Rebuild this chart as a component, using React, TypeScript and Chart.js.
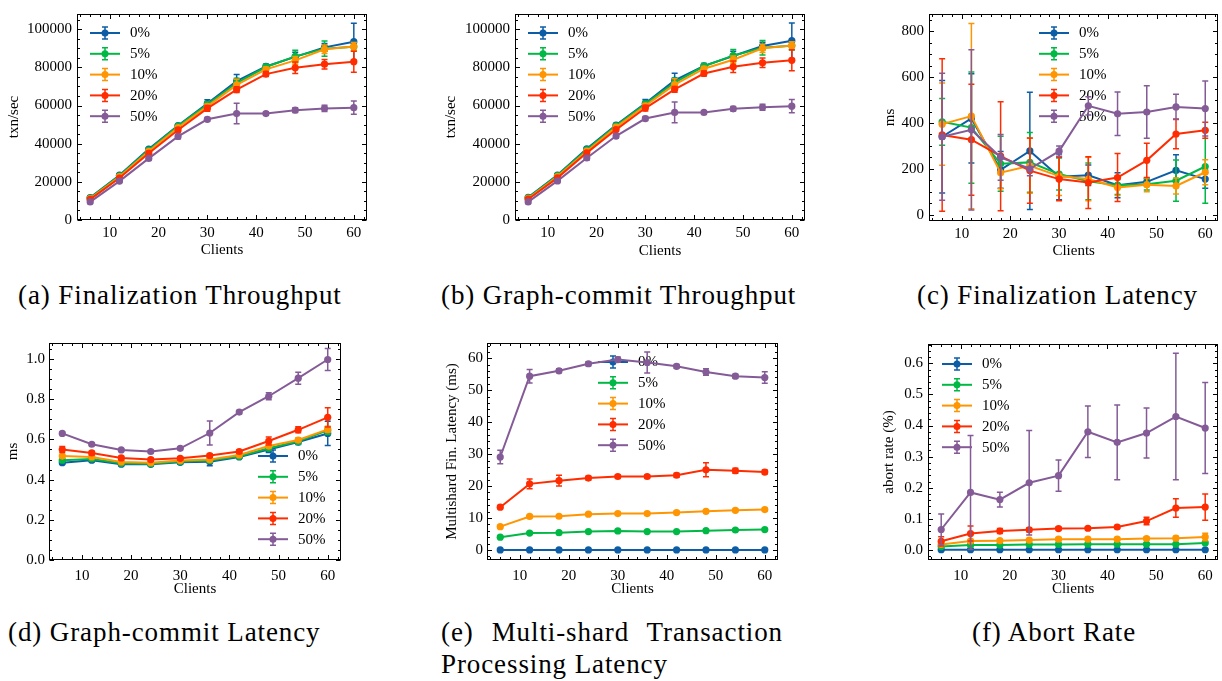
import React, { useEffect, useRef } from 'react';
import { Chart, registerables } from 'chart.js';

Chart.register(...registerables);

const FONT = '"Liberation Serif", Tinos, "DejaVu Serif Condensed", "DejaVu Serif", serif';
Chart.defaults.font.family = FONT;
Chart.defaults.font.size = 15;
Chart.defaults.color = '#000';

// ---------- shared ----------
const clients = [6, 12, 18, 24, 30, 36, 42, 48, 54, 60];
const loadLabels = ['0%', '5%', '10%', '20%', '50%'];
const loadColors = ['#0C5DA5', '#00B945', '#FF9500', '#FF2C00', '#845B97'];
const clientTicks = [10, 20, 30, 40, 50, 60];

// ---------- (a) Finalization Throughput (txn/sec) ----------
const finTputMean = [
  [11800, 23500, 37200, 49500, 61000, 72800, 80500, 85500, 90500, 93500],
  [11500, 23200, 36700, 49200, 60500, 71800, 80200, 85800, 89800, 90800],
  [11200, 22700, 36000, 48500, 59600, 70800, 79000, 83700, 89500, 91000],
  [10800, 22000, 35000, 47200, 58500, 68300, 76500, 79800, 81700, 83000],
  [9500, 20400, 32300, 43800, 52800, 55800, 55800, 57600, 58500, 58900],
];
const finTputErr = [
  [800, 600, 700, 800, 2000, 3500, 1200, 2500, 2000, 9700],
  [700, 600, 700, 700, 1500, 2500, 1500, 3200, 4000, 2200],
  [600, 600, 700, 800, 1200, 3000, 1200, 2000, 2200, 2000],
  [700, 700, 1000, 1000, 1500, 1500, 1300, 3000, 2500, 5500],
  [900, 800, 1000, 1200, 1000, 5400, 900, 1200, 1600, 3500],
];
const tputTicks = [0, 20000, 40000, 60000, 80000, 100000];

// ---------- (b) Graph-commit Throughput (txn/sec) ----------
const gcTputMean = [
  [11900, 23600, 37300, 49800, 61200, 73200, 80800, 86000, 91200, 94000],
  [11600, 23300, 36800, 49400, 60800, 72000, 80600, 86200, 90300, 91300],
  [11300, 22800, 36100, 48700, 59900, 71000, 79300, 84000, 90000, 91500],
  [10900, 22100, 35200, 47400, 58700, 68500, 76800, 80300, 82400, 83700],
  [9500, 20500, 32500, 44000, 53200, 56400, 56400, 58300, 59100, 59700],
];
const gcTputErr = [
  [800, 600, 700, 800, 2000, 3800, 1200, 2500, 2000, 9300],
  [700, 600, 700, 700, 1500, 2500, 1500, 3200, 3800, 2200],
  [600, 600, 700, 800, 1200, 3000, 1200, 2000, 2200, 2000],
  [700, 700, 1000, 1000, 1500, 1500, 1300, 3000, 2500, 5500],
  [900, 800, 1000, 1200, 1000, 5400, 900, 1200, 1600, 3500],
];

// ---------- (c) Finalization Latency (ms) ----------
const finLatMean = [
  [340, 420, 195, 278, 165, 172, 128, 143, 193, 155],
  [405, 380, 222, 228, 177, 145, 128, 132, 148, 210],
  [395, 430, 183, 213, 168, 155, 118, 130, 125, 185],
  [348, 327, 255, 192, 155, 140, 162, 237, 352, 368],
  [340, 370, 250, 200, 277, 475, 440, 448, 470, 463],
];
const finLatErr = [
  [246, 195, 80, 256, 100, 45, 55, 15, 68, 40],
  [102, 243, 120, 130, 70, 80, 40, 25, 90, 160],
  [180, 405, 70, 120, 85, 95, 35, 30, 35, 55],
  [333, 242, 238, 142, 95, 113, 105, 75, 65, 35],
  [277, 350, 100, 30, 22, 40, 95, 115, 55, 120],
];
const finLatTicks = [0, 200, 400, 600, 800];

// ---------- (d) Graph-commit Latency (ms) ----------
const gcLatMean = [
  [0.484, 0.497, 0.477, 0.476, 0.486, 0.489, 0.513, 0.55, 0.587, 0.63],
  [0.497, 0.503, 0.481, 0.479, 0.49, 0.495, 0.516, 0.556, 0.591, 0.645],
  [0.517, 0.513, 0.488, 0.484, 0.495, 0.5, 0.523, 0.567, 0.597, 0.65],
  [0.55, 0.533, 0.508, 0.5, 0.506, 0.52, 0.54, 0.592, 0.648, 0.71],
  [0.63, 0.576, 0.548, 0.54, 0.556, 0.632, 0.736, 0.815, 0.905, 0.998],
];
const gcLatErr = [
  [0.008, 0.008, 0.008, 0.008, 0.01, 0.02, 0.006, 0.015, 0.012, 0.06],
  [0.006, 0.006, 0.006, 0.006, 0.006, 0.01, 0.006, 0.01, 0.015, 0.02],
  [0.008, 0.006, 0.006, 0.006, 0.006, 0.01, 0.006, 0.01, 0.01, 0.015],
  [0.015, 0.008, 0.008, 0.008, 0.008, 0.008, 0.008, 0.02, 0.015, 0.048],
  [0.006, 0.006, 0.006, 0.006, 0.006, 0.06, 0.008, 0.018, 0.03, 0.055],
];
const gcLatTicks = [0, 0.2, 0.4, 0.6, 0.8, 1.0];

// ---------- (e) Multi-shard Transaction Processing Latency (ms) ----------
const msLatMean = [
  [0, 0, 0, 0, 0, 0, 0, 0, 0, 0],
  [4.0, 5.3, 5.4, 5.75, 5.95, 5.75, 5.75, 6.05, 6.25, 6.4],
  [7.3, 10.5, 10.55, 11.2, 11.4, 11.4, 11.7, 12.1, 12.4, 12.65],
  [13.4, 20.7, 21.7, 22.5, 23.0, 23.0, 23.4, 25.1, 24.8, 24.4],
  [29.1, 54.4, 56.1, 58.3, 59.6, 58.7, 57.5, 55.7, 54.4, 54.0],
];
const msLatErr = [
  [0, 0, 0, 0, 0, 0, 0, 0, 0, 0],
  [0.3, 0.3, 0.3, 0.3, 0.3, 0.3, 0.3, 0.3, 0.3, 0.3],
  [0.4, 0.4, 0.4, 0.4, 0.4, 0.4, 0.4, 0.4, 0.4, 0.4],
  [0.5, 1.5, 1.7, 0.6, 0.5, 0.5, 0.6, 2.2, 0.8, 0.6],
  [2.1, 2.1, 0.6, 0.6, 0.8, 3.3, 0.6, 1.0, 0.6, 1.8],
];
const msLatTicks = [0, 10, 20, 30, 40, 50, 60];

// ---------- (f) Abort Rate (%) ----------
const abortMean = [
  [0.001, 0.001, 0.001, 0.001, 0.001, 0.001, 0.001, 0.001, 0.001, 0.001],
  [0.011, 0.016, 0.016, 0.018, 0.018, 0.019, 0.019, 0.019, 0.019, 0.023],
  [0.018, 0.029, 0.03, 0.032, 0.035, 0.035, 0.035, 0.037, 0.038, 0.042],
  [0.028, 0.053, 0.061, 0.065, 0.069, 0.07, 0.074, 0.093, 0.135, 0.138],
  [0.066, 0.185, 0.162, 0.216, 0.239, 0.38, 0.346, 0.376, 0.429, 0.392],
];
const abortErr = [
  [0.001, 0.001, 0.001, 0.001, 0.001, 0.001, 0.001, 0.001, 0.001, 0.001],
  [0.003, 0.003, 0.003, 0.003, 0.003, 0.003, 0.003, 0.003, 0.003, 0.003],
  [0.004, 0.005, 0.005, 0.005, 0.005, 0.005, 0.005, 0.005, 0.006, 0.012],
  [0.015, 0.024, 0.008, 0.006, 0.005, 0.005, 0.005, 0.012, 0.03, 0.042],
  [0.05, 0.183, 0.024, 0.168, 0.05, 0.083, 0.12, 0.08, 0.203, 0.146],
];
const abortTicks = [0, 0.1, 0.2, 0.3, 0.4, 0.5, 0.6];

// ---------- plugins ----------
const errorBarPlugin = {
  id: 'sciErrorBars',
  beforeDatasetDraw(chart: any, args: any) {
    const ds = chart.data.datasets[args.index];
    const errs: number[] | undefined = ds.errors;
    if (!errs) return;
    const { ctx, chartArea } = chart;
    const xs = chart.scales.x;
    const ys = chart.scales.y;
    ctx.save();
    ctx.beginPath();
    ctx.rect(chartArea.left, chartArea.top, chartArea.right - chartArea.left, chartArea.bottom - chartArea.top);
    ctx.clip();
    ctx.strokeStyle = ds.borderColor;
    ctx.lineWidth = 1.5;
    ds.data.forEach((pt: any, i: number) => {
      const e = errs[i];
      if (!e) return;
      const px = xs.getPixelForValue(pt.x);
      const y1 = ys.getPixelForValue(pt.y + e);
      const y2 = ys.getPixelForValue(pt.y - e);
      ctx.beginPath();
      ctx.moveTo(px, y1);
      ctx.lineTo(px, y2);
      ctx.moveTo(px - 3, y1);
      ctx.lineTo(px + 3, y1);
      ctx.moveTo(px - 3, y2);
      ctx.lineTo(px + 3, y2);
      ctx.stroke();
    });
    ctx.restore();
  },
};

const legendPlugin = {
  id: 'sciLegend',
  beforeDatasetsDraw(chart: any, _args: any, opts: any) {
    const { ctx, chartArea } = chart;
    const x0 = chartArea.left + opts.dx;
    const y0 = chartArea.top + opts.dy;
    ctx.save();
    chart.data.datasets.forEach((ds: any, i: number) => {
      const y = y0 + i * 20.8;
      const cx = x0 + 15;
      ctx.strokeStyle = ds.borderColor;
      ctx.fillStyle = ds.borderColor;
      ctx.lineWidth = 2;
      ctx.beginPath();
      ctx.moveTo(x0, y);
      ctx.lineTo(x0 + 30, y);
      ctx.stroke();
      ctx.lineWidth = 1.5;
      ctx.beginPath();
      ctx.moveTo(cx, y - 6);
      ctx.lineTo(cx, y + 6);
      ctx.moveTo(cx - 3, y - 6);
      ctx.lineTo(cx + 3, y - 6);
      ctx.moveTo(cx - 3, y + 6);
      ctx.lineTo(cx + 3, y + 6);
      ctx.stroke();
      ctx.beginPath();
      ctx.arc(cx, y, 3.5, 0, Math.PI * 2);
      ctx.fill();
      ctx.fillStyle = '#000';
      ctx.font = `15px ${FONT}`;
      ctx.textAlign = 'left';
      ctx.textBaseline = 'middle';
      ctx.fillText(ds.label, x0 + 40, y + 0.5);
    });
    ctx.restore();
  },
};

function minorValues(min: number, max: number, step: number, majors: number[]) {
  const out: number[] = [];
  const start = Math.ceil(min / step - 1e-9);
  for (let k = start; k * step <= max + 1e-9; k++) {
    const v = k * step;
    if (!majors.some((m) => Math.abs(m - v) < step * 1e-3)) out.push(v);
  }
  return out;
}

const framePlugin = {
  id: 'sciFrame',
  afterDatasetsDraw(chart: any, _args: any, opts: any) {
    const { ctx, chartArea } = chart;
    const { left, right, top, bottom } = chartArea;
    const xs = chart.scales.x;
    const ys = chart.scales.y;
    const L = Math.round(left) + 0.5;
    const R = Math.round(right) - 0.5;
    const T = Math.round(top) + 0.5;
    const B = Math.round(bottom) - 0.5;
    ctx.save();
    ctx.strokeStyle = '#000';
    ctx.lineWidth = 1;
    ctx.strokeRect(L, T, R - L, B - T);
    const xMaj = xs.ticks.map((t: any) => t.value);
    const yMaj = ys.ticks.map((t: any) => t.value);
    ctx.beginPath();
    const xTick = (v: number, len: number) => {
      const p = Math.round(xs.getPixelForValue(v)) + 0.5;
      ctx.moveTo(p, B);
      ctx.lineTo(p, B - len);
      ctx.moveTo(p, T);
      ctx.lineTo(p, T + len);
    };
    const yTick = (v: number, len: number) => {
      const p = Math.round(ys.getPixelForValue(v)) + 0.5;
      ctx.moveTo(L, p);
      ctx.lineTo(L + len, p);
      ctx.moveTo(R, p);
      ctx.lineTo(R - len, p);
    };
    xMaj.forEach((v: number) => xTick(v, 4.5));
    yMaj.forEach((v: number) => yTick(v, 4.5));
    minorValues(xs.min, xs.max, opts.xMinor, xMaj).forEach((v) => xTick(v, 2.5));
    minorValues(ys.min, ys.max, opts.yMinor, yMaj).forEach((v) => yTick(v, 2.5));
    ctx.stroke();
    ctx.restore();
  },
};

// ---------- panel specs ----------
type Spec = {
  key: string;
  canvas: number[]; // left, top, width, height
  plot: number[]; // l, t, r, b
  means: number[][];
  errs: number[][];
  yMin: number;
  yMax: number;
  yTicks: number[];
  yMinor: number;
  yDecimals: number;
  yTitle: string;
  yTitlePad: number;
  xTitlePad: number;
  xTickPad: number;
  yTickPad: number;
  legend: number[];
};

const panels: Spec[] = [
  {
    key: 'a', canvas: [0, 0, 410, 265], plot: [77, 4, 367, 220],
    means: finTputMean, errs: finTputErr, yMin: 0, yMax: 108000, yTicks: tputTicks, yMinor: 5000, yDecimals: 0,
    yTitle: 'txn/sec', yTitlePad: 5, xTitlePad: 6, xTickPad: 4, yTickPad: 5, legend: [13, 19],
  },
  {
    key: 'b', canvas: [410, 0, 410, 265], plot: [515, 4, 805, 220],
    means: gcTputMean, errs: gcTputErr, yMin: 0, yMax: 108000, yTicks: tputTicks, yMinor: 5000, yDecimals: 0,
    yTitle: 'txn/sec', yTitlePad: 32, xTitlePad: 5, xTickPad: 4, yTickPad: 5, legend: [13, 19],
  },
  {
    key: 'c', canvas: [820, 0, 402, 265], plot: [929, 4, 1219, 221],
    means: finLatMean, errs: finLatErr, yMin: -28, yMax: 876, yTicks: finLatTicks, yMinor: 50, yDecimals: 0,
    yTitle: 'ms', yTitlePad: 61, xTitlePad: 5, xTickPad: 4, yTickPad: 5, legend: [110, 19],
  },
  {
    key: 'd', canvas: [0, 330, 410, 272], plot: [49, 343, 341, 560],
    means: gcLatMean, errs: gcLatErr, yMin: 0, yMax: 1.08, yTicks: gcLatTicks, yMinor: 0.05, yDecimals: 1,
    yTitle: 'ms', yTitlePad: 4, xTitlePad: 4, xTickPad: 7, yTickPad: 4, legend: [209, 113],
  },
  {
    key: 'e', canvas: [410, 330, 410, 272], plot: [487, 343, 778, 560],
    means: msLatMean, errs: msLatErr, yMin: -3.14, yMax: 64.8, yTicks: msLatTicks, yMinor: 2, yDecimals: 0,
    yTitle: 'Multishard Fin. Latency (ms)', yTitlePad: 33, xTitlePad: 4, xTickPad: 7, yTickPad: 4, legend: [111, 19],
  },
  {
    key: 'f', canvas: [820, 330, 402, 272], plot: [928, 343, 1219, 560],
    means: abortMean, errs: abortErr, yMin: -0.032, yMax: 0.662, yTicks: abortTicks, yMinor: 0.02, yDecimals: 1,
    yTitle: 'abort rate (%)', yTitlePad: 60, xTitlePad: 4, xTickPad: 7, yTickPad: 5, legend: [14, 20],
  },
];

function buildConfig(s: Spec): any {
  const [cl, ct, cw, ch] = s.canvas;
  const [pl, pt, pr, pb] = s.plot;
  const yWidth = pl - cl;
  const xHeight = ct + ch - pb;
  return {
    type: 'line',
    data: {
      datasets: s.means.map((row, i) => ({
        label: loadLabels[i],
        data: row.map((v, j) => ({ x: clients[j], y: v })),
        errors: s.errs[i],
        borderColor: loadColors[i],
        backgroundColor: loadColors[i],
        pointBackgroundColor: loadColors[i],
        pointBorderColor: loadColors[i],
        pointBorderWidth: 0,
        pointRadius: 3.6,
        pointHoverRadius: 3.6,
        borderWidth: 2,
        tension: 0,
        fill: false,
        order: loadLabels.length - 1 - i,
      })),
    },
    options: {
      animation: false,
      responsive: false,
      maintainAspectRatio: false,
      events: [],
      layout: { padding: { left: 0, top: pt - ct, right: cl + cw - pr, bottom: 0 } },
      plugins: {
        legend: { display: false },
        tooltip: { enabled: false },
        sciLegend: { dx: s.legend[0], dy: s.legend[1] },
        sciFrame: { xMinor: 2, yMinor: s.yMinor },
      },
      scales: {
        x: {
          type: 'linear',
          min: 3.3,
          max: 62.7,
          afterBuildTicks: (sc: any) => {
            sc.ticks = clientTicks.map((v) => ({ value: v }));
          },
          afterFit: (sc: any) => {
            sc.height = xHeight;
          },
          grid: { display: false, drawTicks: false },
          border: { display: false },
          ticks: {
            padding: s.xTickPad,
            autoSkip: false,
            maxRotation: 0,
            color: '#000',
            font: { family: FONT, size: 15 },
            callback: (v: any) => String(v),
          },
          title: {
            display: true,
            text: 'Clients',
            color: '#000',
            font: { family: FONT, size: 15 },
            padding: { top: 0, bottom: s.xTitlePad },
          },
        },
        y: {
          type: 'linear',
          min: s.yMin,
          max: s.yMax,
          afterBuildTicks: (sc: any) => {
            sc.ticks = s.yTicks.map((v) => ({ value: v }));
          },
          afterFit: (sc: any) => {
            sc.width = yWidth;
          },
          grid: { display: false, drawTicks: false },
          border: { display: false },
          ticks: {
            padding: s.yTickPad,
            autoSkip: false,
            color: '#000',
            font: { family: FONT, size: 15 },
            callback: (v: any) => Number(v).toFixed(s.yDecimals),
          },
          title: {
            display: true,
            text: s.yTitle,
            color: '#000',
            font: { family: FONT, size: 15 },
            padding: { top: s.yTitlePad, bottom: 0 },
          },
        },
      },
    },
    plugins: [errorBarPlugin, legendPlugin, framePlugin],
  };
}

function Panel({ spec }: { spec: Spec }) {
  const ref = useRef<HTMLCanvasElement>(null);
  useEffect(() => {
    if (!ref.current) return;
    const chart = new Chart(ref.current, buildConfig(spec));
    return () => chart.destroy();
  }, [spec]);
  const [cl, ct, cw, ch] = spec.canvas;
  return (
    <canvas
      ref={ref}
      width={cw}
      height={ch}
      style={{ position: 'absolute', left: cl, top: ct, width: cw, height: ch }}
    />
  );
}

// ---------- captions ----------
const captions = [
  { text: '(a) Finalization Throughput', left: 18, top: 280, width: 0 },
  { text: '(b) Graph-commit Throughput', left: 441, top: 280, width: 0 },
  { text: '(c) Finalization Latency', left: 917, top: 280, width: 0 },
  { text: '(d) Graph-commit Latency', left: 8, top: 617, width: 0 },
  { text: '(e) Multi-shard Transaction', left: 441, top: 617, width: 342 },
  { text: 'Processing Latency', left: 441, top: 649, width: 0 },
  { text: '(f) Abort Rate', left: 972, top: 617, width: 0 },
];

export default function App() {
  return (
    <div
      style={{
        position: 'absolute',
        left: 0,
        top: 0,
        width: 1222,
        height: 681,
        background: '#fff',
        overflow: 'hidden',
      }}
    >
      {panels.map((p) => (
        <Panel key={p.key} spec={p} />
      ))}
      {captions.map((c, i) => (
        <div
          key={i}
          style={{
            position: 'absolute',
            left: c.left,
            top: c.top,
            width: c.width || undefined,
            whiteSpace: c.width ? 'normal' : 'nowrap',
            textAlign: c.width ? 'justify' : 'left',
            textAlignLast: c.width ? 'justify' : 'auto',
            fontFamily: FONT,
            fontSize: 27,
            lineHeight: '30px',
            letterSpacing: '0.9px',
            color: '#000',
          }}
        >
          {c.text}
        </div>
      ))}
    </div>
  );
}
